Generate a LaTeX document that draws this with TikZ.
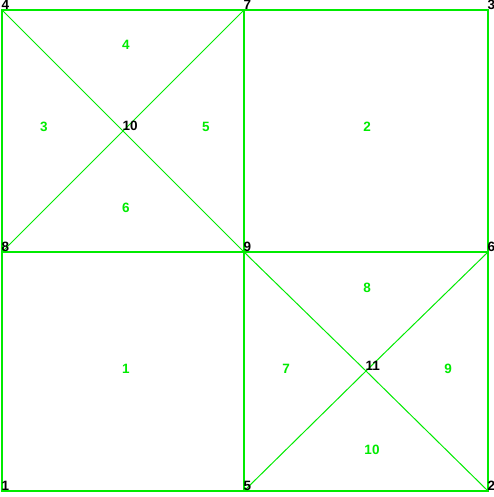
\documentclass[tikz,border=0pt]{standalone}
\usepackage{fontspec}
\setmainfont{Liberation Sans}
\definecolor{lgreen}{RGB}{0,235,0}
\begin{document}
\begin{tikzpicture}[x=1pt,y=-1pt,
  edge/.style={draw=lgreen, line width=2pt},
  diag/.style={draw=lgreen, line width=1pt},
  vlab/.style={anchor=south west, inner sep=0pt, font=\fontsize{13.5}{14}\selectfont\bfseries, text=black},
  elab/.style={inner sep=0pt, font=\fontsize{13.5}{14}\selectfont\bfseries, text=lgreen}]
\useasboundingbox[fill=white] (0,0) rectangle (493,497);
\coordinate (n1) at (2,491);
\coordinate (n2) at (488,491);
\coordinate (n3) at (488,10);
\coordinate (n4) at (2,10);
\coordinate (n5) at (244,491);
\coordinate (n6) at (488,252);
\coordinate (n7) at (244,10);
\coordinate (n8) at (2,252);
\coordinate (n9) at (244,252);
\coordinate (n10) at (123,131);
\coordinate (n11) at (366,371);
% diagonals
\draw[diag] (n4) -- (n10) -- (n9);
\draw[diag] (n8) -- (n10) -- (n7);
\draw[diag] (n9) -- (n11) -- (n2);
\draw[diag] (n5) -- (n11) -- (n6);
% edges
\draw[edge] (n1) -- (n2) -- (n3) -- (n4) -- cycle;
\draw[edge] (n7) -- (n9) -- (n5);
\draw[edge] (n8) -- (n9) -- (n6);
% vertex labels
\foreach \i in {1,...,11} {\node[vlab] (l\i) at ([xshift=-0.5pt,yshift=0.5pt]n\i) {\i};}
% element labels
\node[elab] (e1) at (126,369) {1};
\node[elab] (e2) at (367,127) {2};
\node[elab] (e3) at (44,127) {3};
\node[elab] (e4) at (126,45) {4};
\node[elab] (e5) at (206,127) {5};
\node[elab] (e6) at (126,208) {6};
\node[elab] (e7) at (286,369) {7};
\node[elab] (e8) at (367,288) {8};
\node[elab] (e9) at (448,369) {9};
\node[elab] (e10) at (372,450) {10};
\end{tikzpicture}
\end{document}
